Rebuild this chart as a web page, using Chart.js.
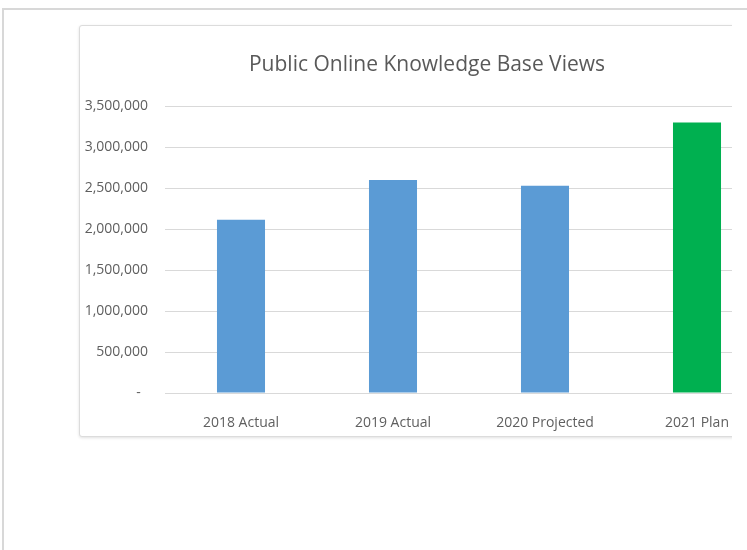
<!DOCTYPE html>
<html>
<head>
<meta charset="utf-8">
<script src="https://cdn.jsdelivr.net/npm/chart.js@4/dist/chart.umd.min.js"></script>
<style>
  html, body { margin: 0; padding: 0; background: #fff; }
  body { width: 747px; height: 550px; position: relative; overflow: hidden; }
  #frame { position: absolute; left: 2px; top: 8px; width: 760px; height: 560px;
           border-left: 2px solid #d8d8d8; border-top: 2px solid #d8d8d8; }
  #clip { position: absolute; left: 76px; top: 22px; width: 656px; height: 422px; overflow: hidden; }
  #box { position: absolute; left: 3px; top: 3px; width: 720px; height: 410px;
         border: 1px solid #dcdcdc; border-radius: 3px; background: #fff;
         box-shadow: 0 1px 3px rgba(0,0,0,0.12); }
  #c { position: absolute; left: 1px; top: 1px; }
</style>
</head>
<body>
<div id="frame"></div>
<div id="clip"><div id="box"><canvas id="c" width="692" height="410"></canvas></div></div>
<script>
const categories = ['2018 Actual', '2019 Actual', '2020 Projected', '2021 Plan'];
const views = [2115000, 2600000, 2530000, 3300000];
const barColors = ['#5B9BD5', '#5B9BD5', '#5B9BD5', '#00B050'];
const chartTitle = 'Public Online Knowledge Base Views';
const yMin = 0, yMax = 3500000, yStep = 500000;

const FONT = '"Open Sans", "Noto Sans", sans-serif';

new Chart(document.getElementById('c'), {
  type: 'bar',
  data: {
    labels: categories,
    datasets: [{
      data: views,
      backgroundColor: barColors,
      borderWidth: 0,
      barPercentage: 0.316,
      categoryPercentage: 1
    }]
  },
  options: {
    responsive: false,
    animation: false,
    devicePixelRatio: 1,
    layout: { padding: 0 },
    plugins: {
      legend: { display: false },
      tooltip: { enabled: false },
      title: {
        display: true,
        text: chartTitle,
        color: '#595959',
        font: { family: FONT, size: 21, weight: 'normal', lineHeight: 1.2 },
        padding: { top: 25, bottom: 29 }
      }
    },
    scales: {
      x: {
        grid: { display: false, drawTicks: false },
        border: { display: true, color: '#d9d9d9', width: 1 },
        ticks: { color: '#5f5f5f', font: { family: FONT, size: 14 }, padding: 22, maxRotation: 0, autoSkip: false },
        afterFit: s => { s.height = 44; }
      },
      y: {
        min: yMin, max: yMax,
        grid: { color: '#d9d9d9', lineWidth: 1, drawTicks: false },
        border: { display: false },
        ticks: {
          stepSize: yStep,
          color: '#5f5f5f',
          font: { family: FONT, size: 14 },
          padding: 17,
          callback: v => v === 0 ? '-  ' : v.toLocaleString('en-US')
        },
        afterFit: s => { s.width = 84; }
      }
    }
  }
});
</script>
</body>
</html>
